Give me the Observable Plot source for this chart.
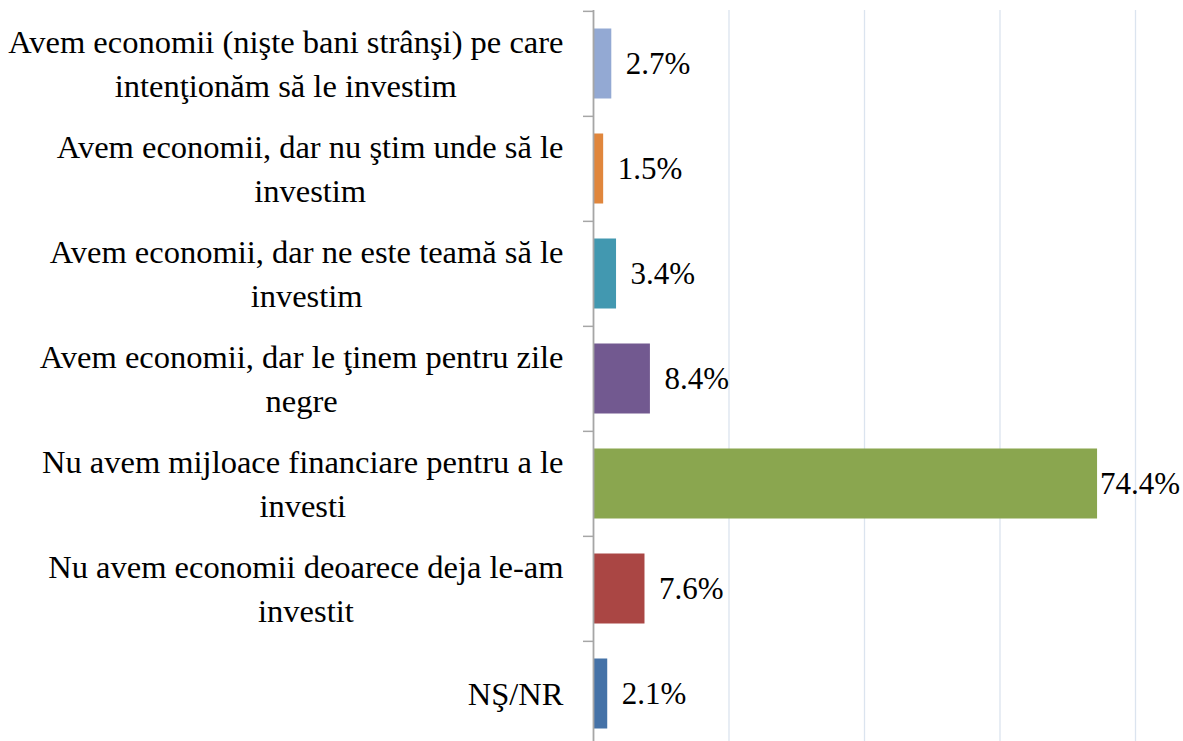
<!DOCTYPE html>
<html>
<head>
<meta charset="utf-8">
<script src="https://cdn.jsdelivr.net/npm/d3@7"></script>
<script src="https://cdn.jsdelivr.net/npm/@observablehq/plot@0.6"></script>
<style>
  html, body { margin: 0; padding: 0; background: #fff; overflow: hidden; }
  #chart svg { display: block; }
</style>
</head>
<body>
<div id="chart"></div>
<script>
// ---- data ----
const categories = [
  "Avem economii (nişte bani strânşi) pe care\nintenţionăm să le investim",
  "Avem economii, dar nu ştim unde să le\ninvestim",
  "Avem economii, dar ne este teamă să le\ninvestim",
  "Avem economii, dar le ţinem pentru zile\nnegre",
  "Nu avem mijloace financiare pentru a le\ninvesti",
  "Nu avem economii deoarece deja le-am\ninvestit",
  "NŞ/NR"
];
const values = [2.7, 1.5, 3.4, 8.4, 74.4, 7.6, 2.1];
const palette = ["#93a9d3", "#e0863c", "#4298b0", "#725990", "#8aa64f", "#aa4644", "#4572a7"];
const gridTicks = [20, 40, 60, 80];

const data = categories.map((c, i) => ({ category: c, value: values[i] }));

// ---- layout ----
const W = 1183, H = 741;
const yRange = [10, 747];
const step = (yRange[1] - yRange[0]) / categories.length;
const FONT = "Liberation Serif";
const FS_CAT = 32.5;
const FS_VAL = 31;

const chart = Plot.plot({
  width: W,
  height: H,
  marginLeft: 593,
  marginRight: 48,
  marginTop: 10,
  marginBottom: 0,
  style: { fontFamily: FONT, fontSize: FS_VAL + "px", color: "#000", background: "#fff" },
  x: { domain: [0, 80], axis: null },
  y: { type: "band", domain: categories, range: yRange, padding: 0, axis: null },
  color: { domain: categories, range: palette },
  marks: [
    Plot.ruleX(gridTicks, { stroke: "#dbe4ef", strokeWidth: 1.3 }),
    Plot.barX(data, { x: "value", y: "category", fill: "category", insetTop: 17.5, insetBottom: 17.5 }),
    Plot.ruleX([0], { stroke: "#a6a6a6", strokeWidth: 1.8 }),
    Plot.axisY({ anchor: "left", label: null, tickSize: 10, tickFormat: () => "", dy: -step / 2, stroke: "#a6a6a6", strokeWidth: 1.5, strokeOpacity: 1 }),
    Plot.axisY({
      anchor: "left", label: null, tickSize: 0, tickPadding: 30, tickFormat: d => d,
      fontSize: FS_CAT, lineHeight: 1.36, dy: -3, fill: "#000"
    }),
    Plot.text(data, {
      x: "value", y: "category", text: d => d.value.toFixed(1) + "%",
      textAnchor: "start", dx: 14, fontSize: FS_VAL, fill: "#000"
    })
  ]
});

document.getElementById("chart").appendChild(chart);

const catSet = new Set(categories.map(c => c.replace(/\n/g, "")));
const svgBox = chart.getBoundingClientRect();

chart.querySelectorAll("text").forEach(t => {
  const content = t.textContent;
  if (catSet.has(content)) {
    // center the wrapped lines inside the right-aligned label block
    const spans = Array.from(t.querySelectorAll("tspan"));
    const parts = spans.length ? spans : [t];
    const maxW = d3.max(parts, p => p.getComputedTextLength());
    t.setAttribute("text-anchor", "middle");
    parts.forEach(p => p.setAttribute("x", -maxW / 2));
  } else if (/%$/.test(content)) {
    // keep value labels inside the picture
    const b = t.getBoundingClientRect();
    const over = b.right - (svgBox.left + W - 3);
    if (over > 0) t.setAttribute("transform", (t.getAttribute("transform") || "") + ` translate(${-over},0)`);
  }
});
</script>
</body>
</html>
